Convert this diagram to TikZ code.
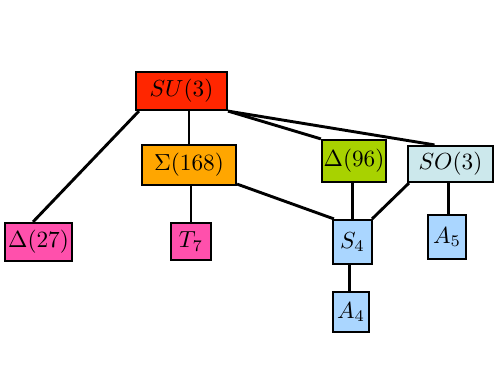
\documentclass[tikz,border=0pt]{standalone}
\def\pxu{0.43pt}
\definecolor{cred}{RGB}{255,38,0}
\definecolor{corange}{RGB}{255,166,0}
\definecolor{cpink}{RGB}{255,80,172}
\definecolor{cgreen}{RGB}{168,210,0}
\definecolor{ccyan}{RGB}{204,232,236}
\definecolor{cblue}{RGB}{170,214,255}
\begin{document}
\begin{tikzpicture}[x=\pxu,y=-\pxu,
  grp/.style={draw=black,line width=0.95pt,inner sep=0pt,font=\normalsize},
  link/.style={draw=black,line width=1.25pt}]
\useasboundingbox (0,0) rectangle (498,374);
\node[grp,fill=cred,minimum width=91*\pxu,minimum height=38*\pxu] (su3) at (181.5,91) {$SU(3)$};
\node[grp,fill=corange,minimum width=94*\pxu,minimum height=40*\pxu] (s168) at (189,165) {$\Sigma(168)$};
\node[grp,fill=cpink,minimum width=67*\pxu,minimum height=38*\pxu] (d27) at (38.5,242) {$\Delta(27)$};
\node[grp,fill=cpink,minimum width=40*\pxu,minimum height=37*\pxu] (t7) at (191,241.5) {$T_7$};
\node[grp,fill=cgreen,minimum width=64*\pxu,minimum height=42*\pxu] (d96) at (354,161) {$\Delta(96)$};
\node[grp,fill=ccyan,minimum width=85*\pxu,minimum height=36*\pxu] (so3) at (450.5,164) {$SO(3)$};
\node[grp,fill=cblue,minimum width=39*\pxu,minimum height=44*\pxu] (s4) at (352.5,242) {$S_4$};
\node[grp,fill=cblue,minimum width=38*\pxu,minimum height=44*\pxu] (a5) at (447,237) {$A_5$};
\node[grp,fill=cblue,minimum width=36*\pxu,minimum height=40*\pxu] (a4) at (351,312) {$A_4$};
\draw[link] ([xshift=4*\pxu]su3.south west) -- ([xshift=-5.5*\pxu]d27.north);
\draw[link] (su3.south -| s168.north) -- (s168.north);
\draw[link] (su3.south east) -- (d96.north west);
\draw[link] (su3.south east) -- ([xshift=-16*\pxu]so3.north);
\draw[link] (s168.south -| t7.north) -- (t7.north);
\draw[link] ([yshift=2*\pxu]s168.south east) -- ([xshift=2*\pxu]s4.north west);
\draw[link] (d96.south -| s4.north) -- (s4.north);
\draw[link] ([xshift=2*\pxu]so3.south west) -- ([xshift=-1*\pxu]s4.north east);
\draw[link] ([xshift=-2*\pxu]so3.south) -- ([xshift=-2*\pxu]so3.south |- a5.north);
\draw[link] ([xshift=-3*\pxu]s4.south) -- ([xshift=-3*\pxu]s4.south |- a4.north);
\end{tikzpicture}
\end{document}
